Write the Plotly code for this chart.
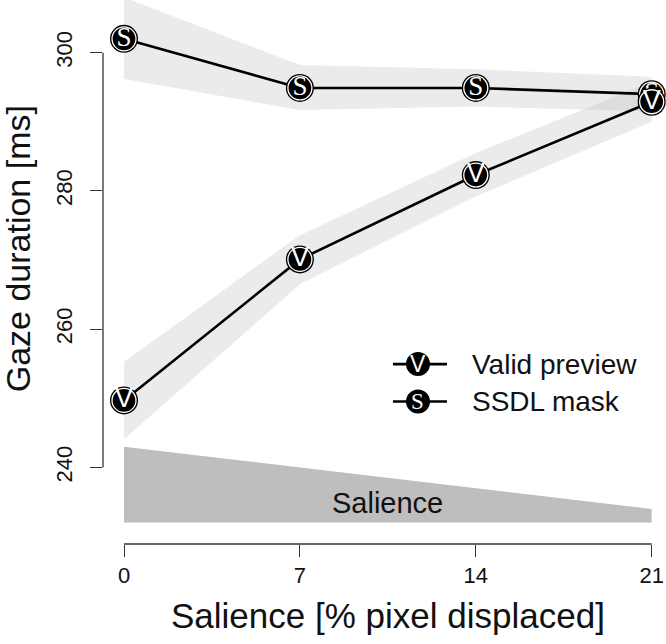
import plotly.graph_objects as go

# ---- data ----
salience_x = [0, 7, 14, 21]
valid_mean = [249.7, 270.1, 282.3, 292.9]
valid_lower = [244.1, 266.5, 279.2, 290.0]
valid_upper = [255.3, 273.6, 285.5, 295.8]
ssdl_mean = [302.0, 294.9, 294.9, 294.0]
ssdl_lower = [296.2, 291.7, 292.2, 291.5]
ssdl_upper = [308.0, 298.2, 297.6, 296.5]
wedge_x = [0, 21]
wedge_top = [243.0, 234.0]
wedge_base = 232.05
x_ticks = [0, 7, 14, 21]
y_ticks = [240, 260, 280, 300]
series_names = ["Valid preview", "SSDL mask"]
series_letters = ["V", "S"]

FONT = "Liberation Sans, Arial, Helvetica, sans-serif"
SERIF = "Liberation Serif, Times New Roman, serif"
RIBBON = "rgba(190,190,190,0.30)"

fig = go.Figure()

# ribbons
for lo, hi in [(ssdl_lower, ssdl_upper), (valid_lower, valid_upper)]:
    fig.add_trace(go.Scatter(
        x=salience_x + salience_x[::-1], y=hi + lo[::-1],
        fill="toself", fillcolor=RIBBON, line=dict(width=0),
        mode="lines", hoverinfo="skip", showlegend=False))

# salience wedge
fig.add_trace(go.Scatter(
    x=wedge_x + wedge_x[::-1], y=wedge_top + [wedge_base, wedge_base],
    fill="toself", fillcolor="#BEBEBE", line=dict(width=0),
    mode="lines", hoverinfo="skip", showlegend=False))

def add_series(ys, letter, family):
    fig.add_trace(go.Scatter(x=salience_x, y=ys, mode="lines",
                             line=dict(color="black", width=2.6),
                             showlegend=False, hoverinfo="skip"))
    fig.add_trace(go.Scatter(x=salience_x, y=ys, mode="markers",
                             marker=dict(size=28, color="black", line=dict(width=0)),
                             showlegend=False, hoverinfo="skip", cliponaxis=False))
    fig.add_trace(go.Scatter(x=salience_x, y=ys, mode="markers+text",
                             marker=dict(size=24, color="black",
                                         line=dict(width=1.3, color="white")),
                             text=[letter] * len(ys), textposition="middle center",
                             textfont=dict(color="white", size=27, family=family),
                             showlegend=False, hoverinfo="skip", cliponaxis=False))

add_series(ssdl_mean, "S", SERIF)
add_series(valid_mean, "V", FONT)

# axis lines spanning tick range (R style)
fig.add_shape(type="line", xref="paper", yref="y", x0=0, x1=0,
              y0=min(y_ticks), y1=max(y_ticks), line=dict(color="#333", width=1.3))
fig.add_shape(type="line", xref="x", yref="paper", y0=0, y1=0,
              x0=min(x_ticks), x1=max(x_ticks), line=dict(color="#333", width=1.3))

# wedge label
fig.add_annotation(x=10.5, y=234.9, text="Salience", showarrow=False,
                   xanchor="center", yanchor="middle",
                   font=dict(size=29, family=FONT, color="#111"))

# manual legend
legend_rows = [0.3307, 0.2620]
for name, letter, yy, fam in zip(series_names, series_letters, legend_rows, [FONT, SERIF]):
    fig.add_shape(type="line", xref="paper", yref="paper", x0=0.515, x1=0.611,
                  y0=yy, y1=yy, line=dict(color="black", width=2.6))
    fig.add_shape(type="circle", xref="paper", yref="paper",
                  xsizemode="pixel", ysizemode="pixel",
                  xanchor=0.5595, yanchor=yy, x0=-12, x1=12, y0=-12, y1=12,
                  fillcolor="black", line=dict(color="black", width=0))
    fig.add_annotation(xref="paper", yref="paper", x=0.5595, y=yy, text=letter,
                       xanchor="center", yanchor="middle",
                       showarrow=False, font=dict(size=23, color="white", family=fam))
    fig.add_annotation(xref="paper", yref="paper", x=0.652, y=yy, text=name,
                       xanchor="left", yanchor="middle", showarrow=False,
                       font=dict(size=28, family=FONT, color="#111"))

# axis titles
fig.add_annotation(xref="paper", yref="paper", x=-0.152, y=0.5425,
                   text="Gaze duration [ms]", textangle=-90, showarrow=False,
                   xanchor="center", yanchor="middle",
                   font=dict(size=34, family=FONT, color="#111"))
fig.add_annotation(xref="paper", yref="paper", x=0.506, y=-0.1317,
                   text="Salience [% pixel displaced]", showarrow=False,
                   xanchor="center", yanchor="middle",
                   font=dict(size=35, family=FONT, color="#111"))

fig.update_xaxes(range=[-0.836, 21.57], tickvals=x_ticks,
                 ticktext=[str(v) for v in x_ticks], automargin=False,
                 ticks="outside", ticklen=12, tickwidth=1.3, tickcolor="#333",
                 showgrid=False, zeroline=False, showline=False,
                 tickfont=dict(size=22, family=FONT, color="#111"))
fig.update_yaxes(range=[228.93, 307.62], tickvals=y_ticks,
                 ticktext=[str(v) for v in y_ticks], automargin=False,
                 ticks="outside", ticklen=12, tickwidth=1.3, tickcolor="#333",
                 showgrid=False, zeroline=False, showline=False, tickangle=-90,
                 ticklabelstandoff=9,
                 tickfont=dict(size=22, family=FONT, color="#111"))

fig.update_layout(width=666, height=644, margin=dict(l=103, r=0, t=0, b=100),
                  plot_bgcolor="white", paper_bgcolor="white", showlegend=False)

fig.write_html("out.html", config={"displayModeBar": False},
               post_script="document.body.style.margin='0';document.body.style.overflow='hidden';")
